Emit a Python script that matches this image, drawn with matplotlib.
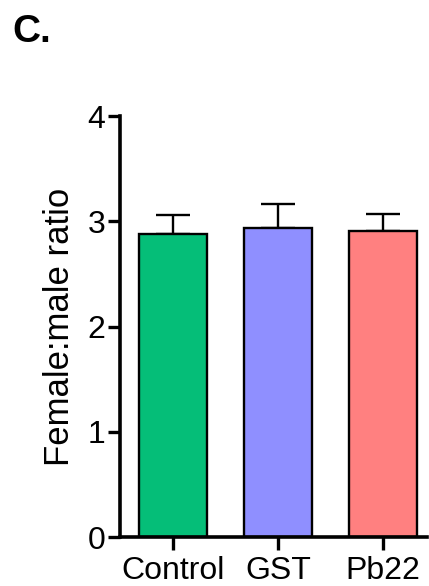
import matplotlib
matplotlib.use("Agg")
import matplotlib.pyplot as plt
import numpy as np

# data
groups = ["Control", "GST", "Pb22"]
means = [2.88, 2.94, 2.91]
sems = [0.18, 0.22, 0.16]
colors = ["#05BE78", "#8F8FFF", "#FF8080"]
yticks = [0, 1, 2, 3, 4]

plt.rcParams['font.family'] = ['Liberation Sans', 'DejaVu Sans']

fig = plt.figure(figsize=(4.29, 5.86), dpi=100)
ax = fig.add_axes([0.2797, 0.0836, 0.7153, 0.7184])

x = np.arange(len(groups))
ax.bar(x, means, width=0.65, color=colors, edgecolor='black', linewidth=1.7, zorder=2)
ax.errorbar(x, means, yerr=[np.zeros(len(sems)), sems], fmt='none', ecolor='black',
            elinewidth=1.7, capsize=12, capthick=1.7, zorder=1)

ax.set_ylim(0, 4)
ax.set_xlim(-0.505, 2.42)
ax.set_yticks(yticks)
ax.set_xticks(x)
ax.set_xticklabels(groups)

for side in ['top', 'right']:
    ax.spines[side].set_visible(False)
for side in ['left', 'bottom']:
    ax.spines[side].set_linewidth(2.6)

ax.tick_params(axis='y', length=8.5, width=2.4, labelsize=23, pad=2)
ax.tick_params(axis='x', length=9, width=2.4, labelsize=23, pad=5)
ax.set_ylabel("Female:male ratio", fontsize=25, labelpad=8)

fig.text(0.03, 0.928, "C.", fontsize=28, fontweight='bold')

fig.savefig("out.png", dpi=100)
